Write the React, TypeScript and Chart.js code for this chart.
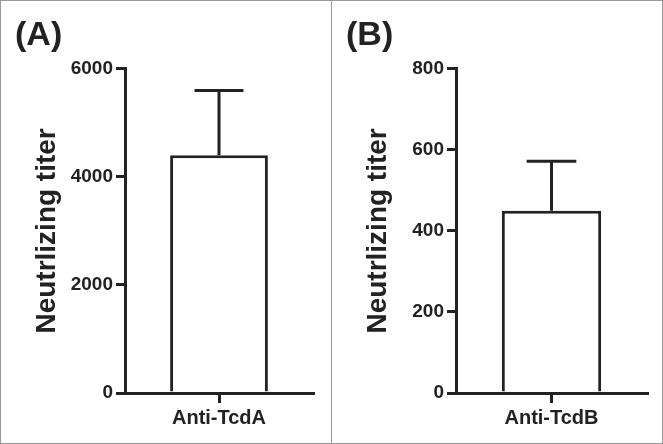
import React, { useEffect, useRef } from "react";
import { Chart, registerables } from "chart.js";

Chart.register(...registerables);

const categoriesA = ["Anti-TcdA"];
const valuesA = [4400];
const errorsA = [1200];
const ticksMaxA = 6000;
const tickStepA = 2000;

const categoriesB = ["Anti-TcdB"];
const valuesB = [450];
const errorsB = [122];
const ticksMaxB = 800;
const tickStepB = 200;

const panelLabels = ["(A)", "(B)"];
const yTitle = "Neutrlizing titer";

const INK = "#222222";
const FONT = "'Liberation Sans', Arial, sans-serif";

const errorBarPlugin = {
  id: "errorBars",
  afterDatasetsDraw(chart: any, _args: any, opts: any) {
    const errs: number[] = opts.errors || [];
    const meta = chart.getDatasetMeta(0);
    const yScale = chart.scales.y;
    const ctx = chart.ctx;
    ctx.save();
    ctx.strokeStyle = INK;
    ctx.lineWidth = 3;
    ctx.lineCap = "butt";
    meta.data.forEach((bar: any, i: number) => {
      const v = chart.data.datasets[0].data[i];
      const top = yScale.getPixelForValue(v + errs[i]);
      const base = yScale.getPixelForValue(v);
      const half = bar.width * 0.25;
      ctx.beginPath();
      ctx.moveTo(bar.x, base);
      ctx.lineTo(bar.x, top);
      ctx.moveTo(bar.x - half, top);
      ctx.lineTo(bar.x + half, top);
      ctx.stroke();
    });
    ctx.restore();
  },
};

function Panel(props: {
  label: string;
  categories: string[];
  values: number[];
  errors: number[];
  max: number;
  step: number;
  left: number;
  width: number;
  padRight: number;
}) {
  const ref = useRef<HTMLCanvasElement | null>(null);
  useEffect(() => {
    if (!ref.current) return;
    const chart = new Chart(ref.current, {
      type: "bar",
      data: {
        labels: props.categories,
        datasets: [
          {
            data: props.values,
            backgroundColor: "#ffffff",
            borderColor: INK,
            borderWidth: 3,
            barPercentage: 0.52,
            categoryPercentage: 1,
          },
        ],
      },
      plugins: [errorBarPlugin],
      options: {
        responsive: false,
        animation: false,
        events: [],
        layout: { padding: { left: 15, right: props.padRight, top: 0, bottom: 0 } },
        plugins: {
          legend: { display: false },
          tooltip: { enabled: false },
          title: {
            display: true,
            text: props.label,
            align: "start",
            color: INK,
            font: { family: FONT, size: 34, weight: "bold" },
            padding: { top: 15, bottom: 13 },
          },
          errorBars: { errors: props.errors },
        } as any,
        scales: {
          x: {
            afterFit: (s: any) => {
              s.height = 51;
            },
            grid: {
              display: true,
              drawOnChartArea: false,
              drawTicks: true,
              tickLength: 10,
              lineWidth: 3,
              color: INK,
              offset: false,
            },
            border: { display: true, color: INK, width: 3 },
            ticks: {
              color: INK,
              padding: 3,
              font: { family: FONT, size: 20, weight: "bold" },
            },
          },
          y: {
            min: 0,
            max: props.max,
            afterFit: (s: any) => {
              s.width = 110;
            },
            grid: {
              display: true,
              drawOnChartArea: false,
              drawTicks: true,
              tickLength: 9,
              lineWidth: 3,
              color: INK,
            },
            border: { display: true, color: INK, width: 3 },
            ticks: {
              stepSize: props.step,
              color: INK,
              padding: 3,
              font: { family: FONT, size: 19, weight: "bold" },
              callback: (v: any) => String(v),
            },
            title: {
              display: true,
              text: yTitle,
              color: INK,
              font: { family: FONT, size: 28, weight: "bold" },
              padding: { top: 15, bottom: 0 },
            },
          },
        },
      },
    });
    return () => chart.destroy();
  }, []);
  return (
    <canvas
      ref={ref}
      width={props.width}
      height={444}
      style={{ position: "absolute", left: props.left, top: 0, width: props.width, height: 444 }}
    />
  );
}

export default function App() {
  return (
    <div
      style={{
        position: "absolute",
        left: 0,
        top: 0,
        width: 663,
        height: 444,
        background: "#ffffff",
        overflow: "hidden",
      }}
    >
      <Panel
        label={panelLabels[0]}
        categories={categoriesA}
        values={valuesA}
        errors={errorsA}
        max={ticksMaxA}
        step={tickStepA}
        left={0}
        width={331}
        padRight={18}
      />
      <Panel
        label={panelLabels[1]}
        categories={categoriesB}
        values={valuesB}
        errors={errorsB}
        max={ticksMaxB}
        step={tickStepB}
        left={331}
        width={332}
        padRight={16}
      />
      <div
        style={{
          position: "absolute",
          left: 0,
          top: 0,
          width: 663,
          height: 444,
          boxSizing: "border-box",
          border: "1px solid #999999",
          pointerEvents: "none",
        }}
      />
      <div
        style={{
          position: "absolute",
          left: 331,
          top: 0,
          width: 1,
          height: 444,
          background: "#999999",
          pointerEvents: "none",
        }}
      />
    </div>
  );
}
